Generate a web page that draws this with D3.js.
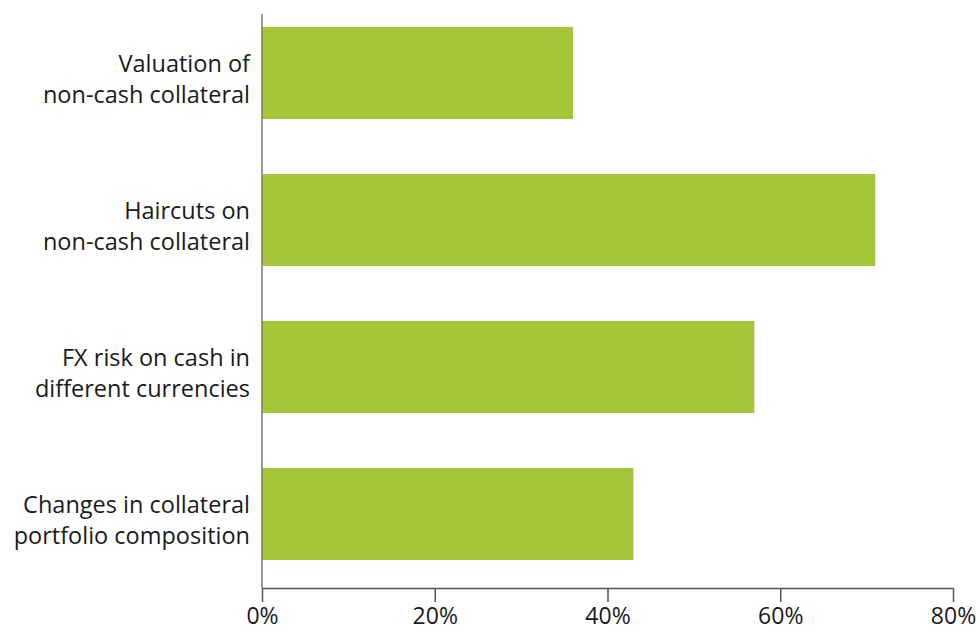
<!DOCTYPE html>
<html>
<head>
<meta charset="utf-8">
<script src="https://cdn.jsdelivr.net/npm/d3@7"></script>
<style>
  html, body { margin: 0; padding: 0; background: #fff; }
  svg { display: block; }
  text { font-family: "Open Sans", "Noto Sans", sans-serif; fill: #1a1a1a; }
</style>
</head>
<body>
<svg id="chart" width="980" height="632"></svg>
<script>
// Category labels (two lines each), share of respondents in percent
const categories = [
  ["Valuation of", "non-cash collateral"],
  ["Haircuts on", "non-cash collateral"],
  ["FX risk on cash in", "different currencies"],
  ["Changes in collateral", "portfolio composition"]
];
const values = [36, 71, 57, 43];
const tickValues = [0, 20, 40, 60, 80];
const tickLabels = ["0%", "20%", "40%", "60%", "80%"];

const svg = d3.select("#chart");

const x = d3.scaleLinear().domain([0, 80]).range([262, 953]);
const y = d3.scaleBand()
  .domain(d3.range(categories.length))
  .range([27, 560])
  .paddingInner(55 / 147)
  .paddingOuter(0);

// bars
svg.append("g")
  .selectAll("rect")
  .data(values)
  .join("rect")
  .attr("x", x(0))
  .attr("y", (d, i) => y(i))
  .attr("width", d => x(d) - x(0))
  .attr("height", y.bandwidth())
  .attr("fill", "#a3c537");

// vertical baseline
svg.append("line")
  .attr("x1", x(0)).attr("x2", x(0))
  .attr("y1", 14).attr("y2", 588)
  .attr("stroke", "#7a7a7a").attr("stroke-width", 1.5);

// bottom axis
const xAxis = d3.axisBottom(x)
  .tickValues(tickValues)
  .tickFormat((d, i) => tickLabels[i])
  .tickSize(14)
  .tickSizeOuter(0)
  .tickPadding(6);

const gx = svg.append("g")
  .attr("transform", "translate(0,588)")
  .call(xAxis);
gx.select(".domain").attr("stroke", "#555").attr("stroke-width", 1.5);
gx.selectAll(".tick line").attr("stroke", "#555").attr("stroke-width", 1.5);
gx.selectAll(".tick text")
  .attr("font-size", 23)
  .attr("fill", "#1a1a1a")
  .style("font-family", "'Open Sans', 'Noto Sans', sans-serif");

// category labels
const labels = svg.append("g")
  .selectAll("text")
  .data(categories)
  .join("text")
  .attr("text-anchor", "end")
  .attr("font-size", 23.5)
  .attr("x", 250)
  .attr("y", (d, i) => y(i) + y.bandwidth() / 2 - 1);

labels.selectAll("tspan")
  .data(d => d)
  .join("tspan")
  .attr("x", 250)
  .attr("dy", (d, j) => j === 0 ? 0 : 31)
  .text(d => d);
</script>
</body>
</html>
